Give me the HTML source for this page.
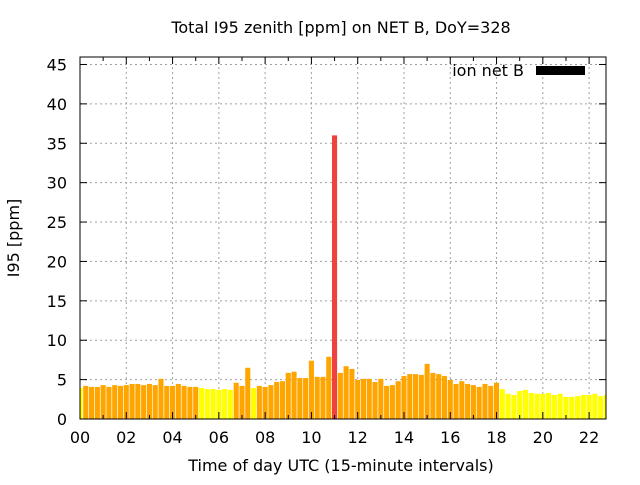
<!DOCTYPE html>
<html><head><meta charset="utf-8"><style>
html,body{margin:0;padding:0;background:#fff;}
svg text{font-family:"DejaVu Sans","Liberation Sans",sans-serif;font-size:16px;fill:#000;}
</style></head><body>
<svg id="chart" width="640" height="480" xmlns="http://www.w3.org/2000/svg">
<text x="341" y="33" text-anchor="middle">Total I95 zenith [ppm] on NET B, DoY=328</text>
<text transform="translate(19,238) rotate(-90)" text-anchor="middle">I95 [ppm]</text>
<text x="341" y="471" text-anchor="middle">Time of day UTC (15-minute intervals)</text>
<g id="grid"></g>
<g id="bars"></g>
<g id="axes"></g>
<text x="524" y="76" text-anchor="end">ion net B</text>
<rect x="536" y="66" width="49" height="9" fill="#000"/>
</svg>
<script>
const values = [3.95,4.2,4.07,4.07,4.3,4.07,4.3,4.2,4.3,4.45,4.45,4.3,4.45,4.3,5.1,4.2,4.2,4.45,4.2,4.07,4.07,3.94,3.8,3.8,3.7,3.8,3.7,4.6,4.2,6.5,3.94,4.2,4.07,4.3,4.7,4.8,5.85,6.0,5.2,5.2,7.4,5.35,5.35,7.9,36,5.85,6.7,6.35,4.95,5.1,5.1,4.7,5.1,4.2,4.3,4.8,5.45,5.7,5.7,5.6,7.0,5.85,5.7,5.45,4.95,4.45,4.8,4.45,4.3,4.07,4.45,4.2,4.6,3.8,3.2,3.05,3.55,3.7,3.3,3.2,3.2,3.3,3.05,3.2,2.8,2.8,2.9,3.05,3.05,3.2,2.9,3.05];
const yTicks = [0,5,10,15,20,25,30,35,40,45];
const xTickHours = [0,2,4,6,8,10,12,14,16,18,20,22];
const xTickLabels = ["00","02","04","06","08","10","12","14","16","18","20","22"];
const L=80,R=606,T=57,B=419,YMAX=45.95,HSPAN=22.73;
const ys=v=>B-(v/YMAX)*(B-T);
const xs=h=>L+(h/HSPAN)*(R-L);
const NS="http://www.w3.org/2000/svg";
function mk(tag,attrs,parent){const e=document.createElementNS(NS,tag);for(const k in attrs)e.setAttribute(k,attrs[k]);parent.appendChild(e);return e;}
const grid=document.getElementById('grid'),bars=document.getElementById('bars'),axes=document.getElementById('axes');
yTicks.forEach(v=>{
  if(v>0){const g=mk('line',{x1:L,x2:R,y1:ys(v),y2:ys(v),stroke:'#a0a0a0','stroke-dasharray':'2,3'},grid);
  
  }
  const t=mk('text',{x:67,y:ys(v)+6,'text-anchor':'end'},axes);t.textContent=v;
  
  
  mk('line',{x1:L,x2:L+7,y1:ys(v),y2:ys(v),stroke:'#000'},axes);
  mk('line',{x1:R,x2:R-7,y1:ys(v),y2:ys(v),stroke:'#000'},axes);
});
xTickHours.forEach((h,i)=>{
  const x=xs(h);
  if(h>0){const g=mk('line',{x1:x,x2:x,y1:T,y2:B,stroke:'#a0a0a0','stroke-dasharray':'2,3'},grid);
  
  }
  const t=mk('text',{x:x,y:443,'text-anchor':'middle'},axes);t.textContent=xTickLabels[i];
  
  
  mk('line',{x1:x,x2:x,y1:B,y2:B-7,stroke:'#000'},axes);
  mk('line',{x1:x,x2:x,y1:T,y2:T+7,stroke:'#000'},axes);
});
for(let h=1;h<HSPAN;h+=2){const x=xs(h);
  mk('line',{x1:x,x2:x,y1:B,y2:B-4,stroke:'#000'},axes);
  mk('line',{x1:x,x2:x,y1:T,y2:T+4,stroke:'#000'},axes);}
const bw=(R-L)/HSPAN/4;
values.forEach((v,i)=>{
  const cx=xs(i/4);
  let x0=Math.max(L,cx-bw*0.44),x1=Math.min(R,cx+bw*0.44);
  const col=v>=10?'#f04040':(v>=3.97?'#ffa500':'#ffff00');
  const r=mk('rect',{x:x0,y:ys(v),width:x1-x0,height:B-ys(v),fill:col},bars);
  
  
});
const b=mk('rect',{x:L,y:T,width:R-L,height:B-T,fill:'none',stroke:'#000'},axes);


</script>
</body></html>
